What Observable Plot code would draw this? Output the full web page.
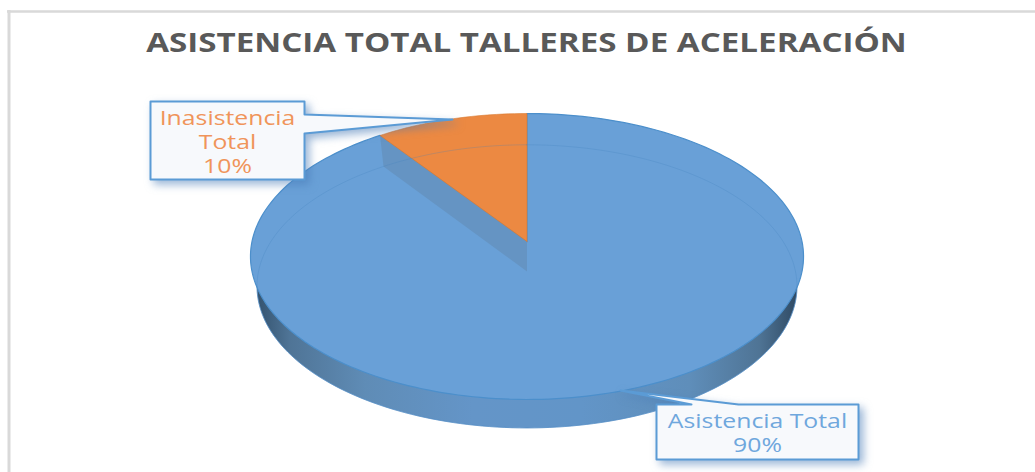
<!DOCTYPE html>
<html><head><meta charset="utf-8">
<style>html,body{margin:0;padding:0;background:#fff}svg{display:block}</style>
<script src="https://cdn.jsdelivr.net/npm/d3@7"></script>
<script src="https://cdn.jsdelivr.net/npm/@observablehq/plot@0.6"></script>
</head><body>
<script>
const chartTitle = "ASISTENCIA TOTAL TALLERES DE ACELERACIÓN";
const categories = ["Asistencia Total", "Inasistencia Total"];
const shares = [90.15, 9.85];
const sliceColors = ["#69a0d7", "#ec8942"];
const labelColors = ["#6fa7dd", "#f0945a"];

const W = 1035, H = 472;
// Perspective of the tilted disc (top face and bottom face)
const topFace = {cx: 526.5, cy: 241, a: 275, b: 141.4, k: 0.105};
const baseFace = {cx: 526.5, cy: 271, a: 268.5, b: 140, k: 0.105};
const project = (f, angle, r = 1) => {
  const u = r * Math.sin(angle), v = -r * Math.cos(angle), w = 1 - f.k * v;
  return {x: f.cx + f.a * u / w, y: f.cy + f.b * v / w};
};
const arcs = d3.pie().sort(null)(shares);
const sweep = (f, a0, a1, center) => {
  const n = Math.max(2, Math.ceil((a1 - a0) * 40));
  const pts = d3.range(n + 1).map(i => project(f, a0 + (a1 - a0) * i / n));
  return center ? [project(f, 0, 0), ...pts, project(f, 0, 0)] : [...pts, pts[0]];
};
const TAU = 2 * Math.PI;
const major = sweep(topFace, arcs[0].startAngle, arcs[0].endAngle, true);
const minor = sweep(topFace, arcs[1].startAngle, arcs[1].endAngle, true);
const baseRim = sweep(baseFace, 0, TAU, false);
const cut = arcs[1].startAngle;
const cutWall = [project(topFace, cut), project(baseFace, cut), project(baseFace, 0, 0), project(topFace, 0, 0), project(topFace, cut)];

// Callout layout
const calloutBoxes = [
  [{x:656,y:404},{x:691,y:404},{x:620,y:390},{x:738,y:404},{x:858,y:404},{x:858,y:459},{x:656,y:459},{x:656,y:404}],
  [{x:150,y:101},{x:304,y:101},{x:304,y:114},{x:452,y:119},{x:304,y:133},{x:304,y:179},{x:150,y:179},{x:150,y:101}]
];
const labelAnchors = [{x:757,y:431.5},{x:227,y:140.5}];
const labelRows = categories.map((c, i) => (i === 1 ? c.replace(" ", "\n") : c) + "\n" + Math.round(shares[i]) + "%");
const labelData = labelRows.map((text, i) => ({text, ...labelAnchors[i], color: labelColors[i]}));

const gradient = () => {
  const ns = "http://www.w3.org/2000/svg";
  const defs = document.createElementNS(ns, "defs");
  const g = document.createElementNS(ns, "linearGradient");
  g.setAttribute("id", "wallShade");
  [[0,"#34536f"],[0.06,"#4f7496"],[0.2,"#5f8cb6"],[0.4,"#6495c8"],[0.6,"#6295c8"],[0.8,"#5f8eba"],[0.93,"#4f7495"],[1,"#2f4a64"]].forEach(([o,c]) => {
    const s = document.createElementNS(ns, "stop");
    s.setAttribute("offset", o); s.setAttribute("stop-color", c); g.appendChild(s);
  });
  defs.appendChild(g);
  return defs;
};

const poly = (pts, o) => Plot.line(pts, {x: "x", y: "y", curve: "linear", ...o});

const plot = Plot.plot({
  width: W, height: H, margin: 0,
  x: {domain: [0, W], range: [0, W], axis: null},
  y: {domain: [0, H], range: [0, H], axis: null},
  style: {background: "#fff"},
  marks: [
    gradient,
    Plot.ruleX([8.5], {y1: 10, y2: H, stroke: "#d9d9d9", strokeWidth: 3}),
    Plot.ruleY([11], {x1: 7, x2: W, stroke: "#d9d9d9", strokeWidth: 2.5}),
    poly(baseRim, {fill: "url(#wallShade)", stroke: "#5b92c8", strokeWidth: 0.7}),
    poly(major, {fill: sliceColors[0], stroke: "#4c8fcb", strokeWidth: 1.2}),
    poly(cutWall, {fill: "#6594c3", stroke: "none"}),
    poly(minor, {fill: sliceColors[1], stroke: "#d9782f", strokeWidth: 0.6}),
    poly(baseRim, {stroke: "#3f7fbb", strokeOpacity: 0.25, strokeWidth: 1, fill: "none"}),
    poly(calloutBoxes[0], {fill: "#f7f9fc", stroke: "#5b9bd5", strokeWidth: 2, className: "callout"}),
    poly(calloutBoxes[1], {fill: "#f7f9fc", stroke: "#5b9bd5", strokeWidth: 2, className: "callout"}),
    Plot.text(labelData, {x: "x", y: "y", text: "text", fill: "color", fontFamily: "Open Sans", fontSize: 20, lineHeight: 1.2, className: "wideLabel"}),
    Plot.text([chartTitle], {x: () => 526, y: () => 43, text: d => d, fill: "#595959", fontFamily: "Open Sans", fontWeight: 700, fontSize: 26, className: "wideTitle"})
  ]
});
plot.querySelectorAll(".callout").forEach(e => e.style.filter = "drop-shadow(4px 4px 4px rgba(70,120,180,.55))");
const stretch = (sel, f) => plot.querySelectorAll(sel + " text").forEach(e => e.setAttribute("transform", (e.getAttribute("transform") || "") + ` scale(${f} 1)`));
stretch(".wideLabel", 1.24);
stretch(".wideTitle", 1.275);
document.body.appendChild(plot);
</script>
</body></html>
